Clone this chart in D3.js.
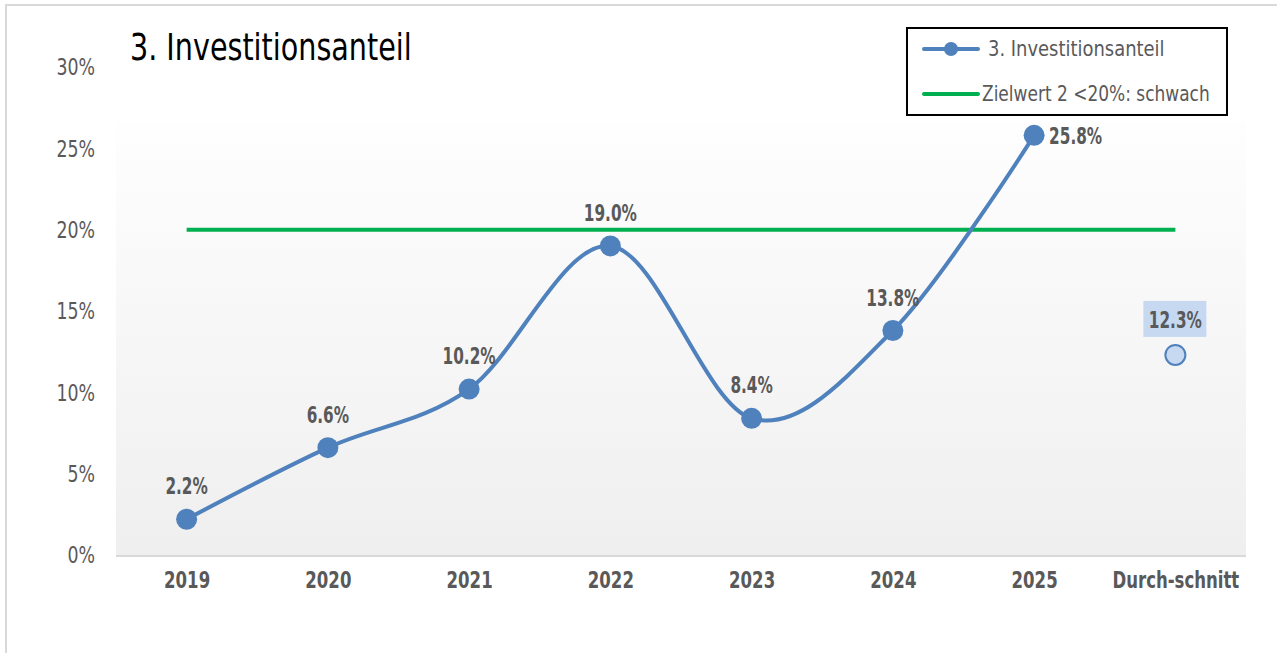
<!DOCTYPE html>
<html>
<head>
<meta charset="utf-8">
<script src="https://cdn.jsdelivr.net/npm/d3@7"></script>
<style>
  body { margin: 0; background: #fff; }
  text { font-family: "Liberation Sans Narrow", "DejaVu Sans Condensed", "DejaVu Sans", sans-serif; font-stretch: condensed; }
</style>
</head>
<body>
<div id="chart"></div>
<script>
var categories = ["2019", "2020", "2021", "2022", "2023", "2024", "2025", "Durch-schnitt"];
var years      = ["2019", "2020", "2021", "2022", "2023", "2024", "2025"];
var values     = [2.2, 6.6, 10.2, 19.0, 8.4, 13.8, 25.8];
var average    = 12.3;
var target     = 20;
var yTicks     = [0, 5, 10, 15, 20, 25, 30];

var W = 1277, H = 653;
var plotLeft = 116, plotRight = 1246, plotTop = 67, plotBottom = 555;

// narrow the glyphs horizontally (the original font is a condensed one)
function squeeze(sel, sx) {
  sel.each(function(){
    var t = d3.select(this);
    var x0 = +t.attr("x") || 0;
    t.attr("x", x0 / sx).attr("transform", "scale(" + sx + ",1)");
  });
}

var svg = d3.select("#chart").append("svg")
    .attr("width", W).attr("height", H);

// outer frame
svg.append("rect").attr("x", 6).attr("y", 5).attr("width", W + 10).attr("height", H + 10)
    .attr("fill", "#fff").attr("stroke", "#d9d9d9").attr("stroke-width", 2);

var defs = svg.append("defs");
var grad = defs.append("linearGradient").attr("id", "bg").attr("x1", 0).attr("y1", 0).attr("x2", 0).attr("y2", 1);
grad.append("stop").attr("offset", "0%").attr("stop-color", "#fefefe");
grad.append("stop").attr("offset", "100%").attr("stop-color", "#efefef");

var x = d3.scalePoint().domain(categories).range([plotLeft, plotRight]).padding(0.5);
var y = d3.scaleLinear().domain([0, 30]).range([plotBottom, plotTop]);

// plot area background
svg.append("rect").attr("x", plotLeft).attr("y", 122)
    .attr("width", plotRight - plotLeft).attr("height", plotBottom - 122)
    .attr("fill", "url(#bg)");

// axis line
svg.append("line").attr("x1", plotLeft).attr("x2", plotRight).attr("y1", plotBottom + 1).attr("y2", plotBottom + 1)
    .attr("stroke", "#d9d9d9").attr("stroke-width", 2);

// y axis labels
var yAxis = svg.append("g").attr("transform", "translate(95,0)")
    .call(d3.axisLeft(y).tickValues(yTicks).tickSize(0).tickPadding(0).tickFormat(function(d){ return d + "%"; }));
yAxis.select(".domain").remove();
yAxis.attr("font-family", null);
yAxis.selectAll("text").attr("font-size", 23).attr("fill", "#595959").attr("dy", "0.34em");
squeeze(yAxis.selectAll("text"), 0.84);

// x axis labels
var xAxis = svg.append("g").attr("transform", "translate(0," + plotBottom + ")")
    .call(d3.axisBottom(x).tickSize(0).tickPadding(17));
xAxis.select(".domain").remove();
xAxis.attr("font-family", null);
xAxis.selectAll("text").attr("font-size", 23).attr("font-weight", "bold").attr("fill", "#595959");
squeeze(xAxis.selectAll("text"), 0.8);

// target line
svg.append("line")
    .attr("x1", x("2019")).attr("x2", x("Durch-schnitt"))
    .attr("y1", y(target)).attr("y2", y(target))
    .attr("stroke", "#00b050").attr("stroke-width", 4);

// series line
var line = d3.line()
    .x(function(d, i){ return x(years[i]); })
    .y(function(d){ return y(d); })
    .curve(d3.curveCardinal.tension(0));

svg.append("path").datum(values)
    .attr("d", line)
    .attr("fill", "none").attr("stroke", "#4f81bd").attr("stroke-width", 4);

svg.selectAll("circle.pt").data(values).enter().append("circle")
    .attr("class", "pt")
    .attr("cx", function(d, i){ return x(years[i]); })
    .attr("cy", function(d){ return y(d); })
    .attr("r", 10.5).attr("fill", "#4f81bd");

// value labels
var lbl = svg.selectAll("text.lbl").data(values).enter().append("text")
    .attr("class", "lbl")
    .attr("x", function(d, i){ return i === values.length - 1 ? x(years[i]) + 15 : x(years[i]); })
    .attr("y", function(d, i){ return i === values.length - 1 ? y(d) + 9 : y(d) - 25; })
    .attr("text-anchor", function(d, i){ return i === values.length - 1 ? "start" : "middle"; })
    .attr("font-size", 23).attr("font-weight", "bold").attr("fill", "#595959")
    .text(function(d){ return d.toFixed(1) + "%"; });
squeeze(lbl, 0.74);

// average marker
var ax = x("Durch-schnitt"), ay = y(average);
svg.append("rect").attr("x", ax - 32).attr("y", ay - 54).attr("width", 63).attr("height", 36)
    .attr("fill", "#c6d9f1");
var avgLbl = svg.append("text").attr("x", ax).attr("y", ay - 27).attr("text-anchor", "middle")
    .attr("font-size", 23).attr("font-weight", "bold").attr("fill", "#595959")
    .text(average.toFixed(1) + "%");
squeeze(avgLbl, 0.74);
svg.append("circle").attr("cx", ax).attr("cy", ay).attr("r", 10)
    .attr("fill", "#c6d9f1").attr("stroke", "#4f81bd").attr("stroke-width", 2);

// title
var title = svg.append("text").attr("x", 130).attr("y", 60)
    .attr("font-size", 37).attr("fill", "#000")
    .text("3. Investitionsanteil");
squeeze(title, 0.86);

// legend
var lg = svg.append("g");
lg.append("rect").attr("x", 907).attr("y", 28).attr("width", 320).attr("height", 87)
    .attr("fill", "#fff").attr("stroke", "#000").attr("stroke-width", 2);
lg.append("line").attr("x1", 924).attr("x2", 978).attr("y1", 49).attr("y2", 49)
    .attr("stroke", "#4f81bd").attr("stroke-width", 4).attr("stroke-linecap", "round");
lg.append("circle").attr("cx", 951).attr("cy", 49).attr("r", 7).attr("fill", "#4f81bd");
var lt1 = lg.append("text").attr("x", 988).attr("y", 56).attr("font-size", 21).attr("fill", "#595959")
    .text("3. Investitionsanteil");
lg.append("line").attr("x1", 924).attr("x2", 978).attr("y1", 94).attr("y2", 94)
    .attr("stroke", "#00b050").attr("stroke-width", 4).attr("stroke-linecap", "round");
var lt2 = lg.append("text").attr("x", 982).attr("y", 101).attr("font-size", 21).attr("fill", "#595959")
    .text("Zielwert 2 <20%: schwach");
squeeze(lt1, 0.95);
squeeze(lt2, 0.9);
</script>
</body>
</html>
